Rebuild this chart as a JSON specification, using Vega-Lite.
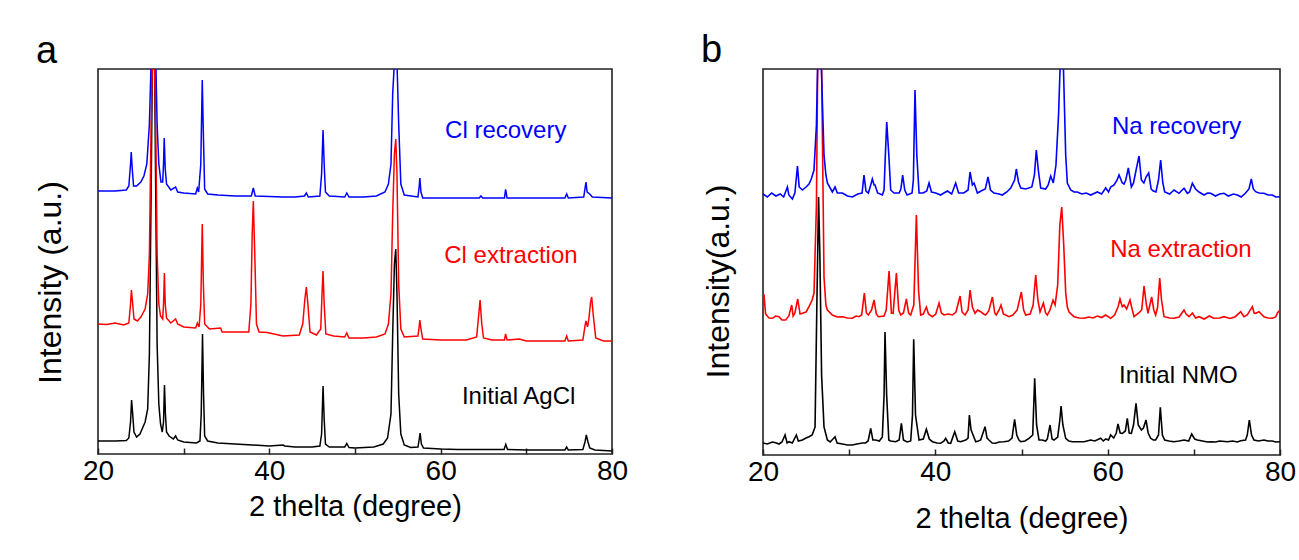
{
  "$schema": "https://vega.github.io/schema/vega-lite/v6.json",
  "background": "white",
  "padding": {"left": 33, "top": 31, "right": 5, "bottom": 5},
  "bounds": "flush",
  "spacing": 151,
  "config": {
    "view": {"stroke": "#222", "strokeWidth": 1.6},
    "font": "Liberation Sans",
    "axis": {"grid": false, "domain": false, "labelFont": "Liberation Sans", "titleFont": "Liberation Sans", "labelColor": "#000", "titleColor": "#000", "titleFontWeight": "normal"}
  },
  "datasets": {
    "a": [
      {"s":"ini","t":20,"i":13},{"s":"ini","t":22,"i":13},{"s":"ini","t":23.3,"i":13.5},{"s":"ini","t":23.6,"i":16},{"s":"ini","t":23.8,"i":32},{"s":"ini","t":23.92,"i":54},{"s":"ini","t":24.05,"i":40},{"s":"ini","t":24.2,"i":22},{"s":"ini","t":24.5,"i":17},{"s":"ini","t":24.9,"i":20},{"s":"ini","t":25.3,"i":28},{"s":"ini","t":25.5,"i":32},{"s":"ini","t":25.8,"i":45},{"s":"ini","t":26.0,"i":100},{"s":"ini","t":26.2,"i":260},{"s":"ini","t":26.35,"i":392},{"s":"ini","t":26.6,"i":392},{"s":"ini","t":26.75,"i":250},{"s":"ini","t":26.9,"i":110},{"s":"ini","t":27.1,"i":50},{"s":"ini","t":27.3,"i":30},{"s":"ini","t":27.5,"i":22},{"s":"ini","t":27.65,"i":32},{"s":"ini","t":27.76,"i":69},{"s":"ini","t":27.87,"i":40},{"s":"ini","t":28.0,"i":22},{"s":"ini","t":28.3,"i":18},{"s":"ini","t":28.8,"i":15},{"s":"ini","t":29.06,"i":18},{"s":"ini","t":29.3,"i":14},{"s":"ini","t":30,"i":12},{"s":"ini","t":31.5,"i":11},{"s":"ini","t":31.9,"i":13},{"s":"ini","t":32.05,"i":40},{"s":"ini","t":32.2,"i":120},{"s":"ini","t":32.32,"i":60},{"s":"ini","t":32.45,"i":18},{"s":"ini","t":32.8,"i":13},{"s":"ini","t":34,"i":11},{"s":"ini","t":36,"i":10},{"s":"ini","t":38,"i":9},{"s":"ini","t":40,"i":8},{"s":"ini","t":41.6,"i":9},{"s":"ini","t":41.8,"i":8},{"s":"ini","t":43,"i":7},{"s":"ini","t":45,"i":7},{"s":"ini","t":45.9,"i":8},{"s":"ini","t":46.1,"i":20},{"s":"ini","t":46.27,"i":68},{"s":"ini","t":46.4,"i":35},{"s":"ini","t":46.55,"i":10},{"s":"ini","t":47,"i":7},{"s":"ini","t":48.8,"i":7},{"s":"ini","t":49.04,"i":10.5},{"s":"ini","t":49.3,"i":6.5},{"s":"ini","t":50,"i":6},{"s":"ini","t":52.2,"i":7},{"s":"ini","t":53.3,"i":10},{"s":"ini","t":53.8,"i":16},{"s":"ini","t":54.2,"i":40},{"s":"ini","t":54.4,"i":120},{"s":"ini","t":54.6,"i":190},{"s":"ini","t":54.76,"i":205},{"s":"ini","t":54.9,"i":160},{"s":"ini","t":55.1,"i":60},{"s":"ini","t":55.35,"i":20},{"s":"ini","t":55.75,"i":9},{"s":"ini","t":56.5,"i":6.5},{"s":"ini","t":57.35,"i":7},{"s":"ini","t":57.5,"i":15},{"s":"ini","t":57.6,"i":21},{"s":"ini","t":57.75,"i":10},{"s":"ini","t":58,"i":6},{"s":"ini","t":60,"i":5},{"s":"ini","t":62,"i":4.5},{"s":"ini","t":64.7,"i":4.5},{"s":"ini","t":67.4,"i":4.5},{"s":"ini","t":67.6,"i":9.7},{"s":"ini","t":67.8,"i":4.5},{"s":"ini","t":70,"i":4},{"s":"ini","t":72,"i":4},{"s":"ini","t":74.5,"i":4},{"s":"ini","t":74.71,"i":7},{"s":"ini","t":74.9,"i":4},{"s":"ini","t":76.6,"i":4.5},{"s":"ini","t":76.85,"i":12},{"s":"ini","t":77.0,"i":19},{"s":"ini","t":77.2,"i":12},{"s":"ini","t":77.4,"i":6},{"s":"ini","t":78,"i":4},{"s":"ini","t":80,"i":3},
      {"s":"ext","t":20,"i":130},{"s":"ext","t":21,"i":129.5},{"s":"ext","t":22,"i":131},{"s":"ext","t":23,"i":129},{"s":"ext","t":23.6,"i":131},{"s":"ext","t":23.8,"i":150},{"s":"ext","t":23.9,"i":164},{"s":"ext","t":24.05,"i":150},{"s":"ext","t":24.2,"i":135},{"s":"ext","t":24.6,"i":133},{"s":"ext","t":25.0,"i":137},{"s":"ext","t":25.5,"i":145},{"s":"ext","t":25.8,"i":160},{"s":"ext","t":26.0,"i":200},{"s":"ext","t":26.2,"i":330},{"s":"ext","t":26.35,"i":392},{"s":"ext","t":26.6,"i":392},{"s":"ext","t":26.75,"i":320},{"s":"ext","t":26.9,"i":200},{"s":"ext","t":27.1,"i":150},{"s":"ext","t":27.3,"i":138},{"s":"ext","t":27.55,"i":135},{"s":"ext","t":27.65,"i":150},{"s":"ext","t":27.75,"i":181},{"s":"ext","t":27.85,"i":150},{"s":"ext","t":28.0,"i":136},{"s":"ext","t":28.5,"i":131},{"s":"ext","t":29.06,"i":135},{"s":"ext","t":29.3,"i":130},{"s":"ext","t":30,"i":127},{"s":"ext","t":31.4,"i":126},{"s":"ext","t":31.6,"i":131},{"s":"ext","t":31.8,"i":127},{"s":"ext","t":32.0,"i":150},{"s":"ext","t":32.17,"i":230},{"s":"ext","t":32.3,"i":170},{"s":"ext","t":32.45,"i":130},{"s":"ext","t":33,"i":125},{"s":"ext","t":34.31,"i":126},{"s":"ext","t":34.5,"i":122},{"s":"ext","t":36,"i":122},{"s":"ext","t":37.6,"i":122},{"s":"ext","t":37.85,"i":150},{"s":"ext","t":38.0,"i":220},{"s":"ext","t":38.13,"i":253},{"s":"ext","t":38.3,"i":200},{"s":"ext","t":38.5,"i":130},{"s":"ext","t":38.8,"i":122},{"s":"ext","t":39.77,"i":121.5},{"s":"ext","t":41.6,"i":118},{"s":"ext","t":43.5,"i":119},{"s":"ext","t":43.9,"i":130},{"s":"ext","t":44.15,"i":155},{"s":"ext","t":44.32,"i":167},{"s":"ext","t":44.5,"i":150},{"s":"ext","t":44.75,"i":122},{"s":"ext","t":45.5,"i":119},{"s":"ext","t":46.0,"i":125},{"s":"ext","t":46.15,"i":160},{"s":"ext","t":46.27,"i":183},{"s":"ext","t":46.4,"i":150},{"s":"ext","t":46.6,"i":120},{"s":"ext","t":47.5,"i":118},{"s":"ext","t":48.8,"i":117},{"s":"ext","t":49.04,"i":121},{"s":"ext","t":49.3,"i":116},{"s":"ext","t":51,"i":116},{"s":"ext","t":52.5,"i":117},{"s":"ext","t":53.5,"i":120},{"s":"ext","t":53.9,"i":130},{"s":"ext","t":54.2,"i":160},{"s":"ext","t":54.4,"i":240},{"s":"ext","t":54.6,"i":300},{"s":"ext","t":54.76,"i":315},{"s":"ext","t":54.9,"i":280},{"s":"ext","t":55.1,"i":170},{"s":"ext","t":55.35,"i":125},{"s":"ext","t":55.75,"i":117},{"s":"ext","t":57.35,"i":118},{"s":"ext","t":57.5,"i":128},{"s":"ext","t":57.57,"i":134},{"s":"ext","t":57.7,"i":125},{"s":"ext","t":57.9,"i":115},{"s":"ext","t":60,"i":114},{"s":"ext","t":63,"i":114},{"s":"ext","t":64.2,"i":117},{"s":"ext","t":64.45,"i":140},{"s":"ext","t":64.6,"i":154},{"s":"ext","t":64.8,"i":130},{"s":"ext","t":65.0,"i":116},{"s":"ext","t":66,"i":114},{"s":"ext","t":67.45,"i":114},{"s":"ext","t":67.58,"i":120},{"s":"ext","t":67.75,"i":114},{"s":"ext","t":69.17,"i":115},{"s":"ext","t":70,"i":113},{"s":"ext","t":74.5,"i":113},{"s":"ext","t":74.71,"i":118},{"s":"ext","t":74.9,"i":113},{"s":"ext","t":76.6,"i":114},{"s":"ext","t":76.85,"i":128},{"s":"ext","t":76.96,"i":133},{"s":"ext","t":77.15,"i":127},{"s":"ext","t":77.3,"i":135},{"s":"ext","t":77.5,"i":152},{"s":"ext","t":77.63,"i":157},{"s":"ext","t":77.8,"i":140},{"s":"ext","t":78.1,"i":116},{"s":"ext","t":79,"i":113},{"s":"ext","t":80,"i":113},
      {"s":"rec","t":20,"i":263},{"s":"rec","t":22,"i":263},{"s":"rec","t":23.3,"i":264},{"s":"rec","t":23.6,"i":268},{"s":"rec","t":23.8,"i":290},{"s":"rec","t":23.88,"i":302},{"s":"rec","t":24.0,"i":285},{"s":"rec","t":24.15,"i":268},{"s":"rec","t":24.5,"i":268},{"s":"rec","t":25.0,"i":272},{"s":"rec","t":25.36,"i":278},{"s":"rec","t":25.7,"i":290},{"s":"rec","t":26.0,"i":330},{"s":"rec","t":26.2,"i":392},{"s":"rec","t":26.75,"i":392},{"s":"rec","t":26.9,"i":330},{"s":"rec","t":27.1,"i":290},{"s":"rec","t":27.35,"i":272},{"s":"rec","t":27.55,"i":272},{"s":"rec","t":27.65,"i":290},{"s":"rec","t":27.73,"i":316},{"s":"rec","t":27.85,"i":285},{"s":"rec","t":28.0,"i":270},{"s":"rec","t":28.5,"i":264},{"s":"rec","t":29.06,"i":267},{"s":"rec","t":29.3,"i":262},{"s":"rec","t":30,"i":261},{"s":"rec","t":31.4,"i":260},{"s":"rec","t":31.59,"i":266},{"s":"rec","t":31.75,"i":262},{"s":"rec","t":32.0,"i":290},{"s":"rec","t":32.17,"i":374},{"s":"rec","t":32.3,"i":320},{"s":"rec","t":32.45,"i":265},{"s":"rec","t":32.8,"i":260},{"s":"rec","t":34,"i":259},{"s":"rec","t":36,"i":258},{"s":"rec","t":37.9,"i":258},{"s":"rec","t":38.13,"i":266},{"s":"rec","t":38.35,"i":258},{"s":"rec","t":40,"i":257.5},{"s":"rec","t":41.6,"i":257},{"s":"rec","t":43,"i":257},{"s":"rec","t":44.1,"i":258},{"s":"rec","t":44.32,"i":261},{"s":"rec","t":44.55,"i":257},{"s":"rec","t":45.9,"i":258},{"s":"rec","t":46.1,"i":280},{"s":"rec","t":46.27,"i":324},{"s":"rec","t":46.4,"i":290},{"s":"rec","t":46.55,"i":262},{"s":"rec","t":47,"i":258},{"s":"rec","t":48.8,"i":257},{"s":"rec","t":49.04,"i":261},{"s":"rec","t":49.3,"i":257},{"s":"rec","t":51,"i":257},{"s":"rec","t":52.5,"i":258},{"s":"rec","t":53.5,"i":262},{"s":"rec","t":53.9,"i":270},{"s":"rec","t":54.2,"i":290},{"s":"rec","t":54.4,"i":360},{"s":"rec","t":54.6,"i":392},{"s":"rec","t":54.9,"i":392},{"s":"rec","t":55.1,"i":330},{"s":"rec","t":55.35,"i":270},{"s":"rec","t":55.75,"i":259},{"s":"rec","t":57.35,"i":257},{"s":"rec","t":57.5,"i":268},{"s":"rec","t":57.57,"i":276},{"s":"rec","t":57.7,"i":262},{"s":"rec","t":57.9,"i":256},{"s":"rec","t":60,"i":256},{"s":"rec","t":64.5,"i":256},{"s":"rec","t":64.7,"i":258},{"s":"rec","t":64.9,"i":256},{"s":"rec","t":67.45,"i":256},{"s":"rec","t":67.58,"i":264.7},{"s":"rec","t":67.75,"i":256},{"s":"rec","t":70,"i":256},{"s":"rec","t":74.5,"i":256},{"s":"rec","t":74.71,"i":260},{"s":"rec","t":74.9,"i":256},{"s":"rec","t":76.7,"i":257},{"s":"rec","t":76.96,"i":272},{"s":"rec","t":77.1,"i":262},{"s":"rec","t":77.4,"i":260},{"s":"rec","t":77.7,"i":257},{"s":"rec","t":80,"i":256}
    ],
    "b": [
      {"s":"ini","t":20,"i":12},{"s":"ini","t":20.5,"i":11},{"s":"ini","t":21.09,"i":13},{"s":"ini","t":21.47,"i":12.3},{"s":"ini","t":21.86,"i":11},{"s":"ini","t":22.2,"i":13},{"s":"ini","t":22.56,"i":20},{"s":"ini","t":22.8,"i":12},{"s":"ini","t":23.02,"i":13.3},{"s":"ini","t":23.4,"i":12},{"s":"ini","t":23.87,"i":20},{"s":"ini","t":24.1,"i":14},{"s":"ini","t":24.57,"i":15},{"s":"ini","t":25.0,"i":17},{"s":"ini","t":25.34,"i":18.3},{"s":"ini","t":25.7,"i":20},{"s":"ini","t":26.04,"i":28},{"s":"ini","t":26.25,"i":150},{"s":"ini","t":26.45,"i":258},{"s":"ini","t":26.6,"i":200},{"s":"ini","t":26.8,"i":80},{"s":"ini","t":27.08,"i":28},{"s":"ini","t":27.47,"i":15},{"s":"ini","t":27.8,"i":13},{"s":"ini","t":28.36,"i":18.3},{"s":"ini","t":28.6,"i":12},{"s":"ini","t":29.21,"i":11},{"s":"ini","t":29.8,"i":10},{"s":"ini","t":30.37,"i":10},{"s":"ini","t":30.9,"i":11},{"s":"ini","t":31.53,"i":12},{"s":"ini","t":31.9,"i":12},{"s":"ini","t":32.2,"i":14},{"s":"ini","t":32.5,"i":26.7},{"s":"ini","t":32.75,"i":15},{"s":"ini","t":33.07,"i":15},{"s":"ini","t":33.5,"i":14},{"s":"ini","t":33.85,"i":18},{"s":"ini","t":34.05,"i":60},{"s":"ini","t":34.16,"i":123},{"s":"ini","t":34.35,"i":60},{"s":"ini","t":34.6,"i":15},{"s":"ini","t":34.8,"i":14},{"s":"ini","t":35.4,"i":13.3},{"s":"ini","t":35.8,"i":15},{"s":"ini","t":36.06,"i":31.7},{"s":"ini","t":36.3,"i":15},{"s":"ini","t":36.72,"i":13},{"s":"ini","t":37.14,"i":14},{"s":"ini","t":37.35,"i":40},{"s":"ini","t":37.49,"i":115.7},{"s":"ini","t":37.7,"i":40},{"s":"ini","t":38.11,"i":15},{"s":"ini","t":38.6,"i":16},{"s":"ini","t":38.96,"i":25.7},{"s":"ini","t":39.3,"i":16},{"s":"ini","t":39.66,"i":13.3},{"s":"ini","t":40.2,"i":12},{"s":"ini","t":40.62,"i":11.7},{"s":"ini","t":41.01,"i":14},{"s":"ini","t":41.2,"i":16.7},{"s":"ini","t":41.5,"i":12},{"s":"ini","t":41.78,"i":11.7},{"s":"ini","t":42.25,"i":23.3},{"s":"ini","t":42.6,"i":14},{"s":"ini","t":42.94,"i":13.3},{"s":"ini","t":43.53,"i":15},{"s":"ini","t":43.8,"i":17},{"s":"ini","t":43.95,"i":40},{"s":"ini","t":44.15,"i":25},{"s":"ini","t":44.3,"i":21.7},{"s":"ini","t":44.69,"i":13.3},{"s":"ini","t":45.0,"i":14},{"s":"ini","t":45.26,"i":15},{"s":"ini","t":45.77,"i":28.3},{"s":"ini","t":46.0,"i":17},{"s":"ini","t":46.22,"i":15},{"s":"ini","t":46.6,"i":12},{"s":"ini","t":46.99,"i":11.7},{"s":"ini","t":47.4,"i":13},{"s":"ini","t":47.96,"i":13.3},{"s":"ini","t":48.5,"i":14},{"s":"ini","t":48.9,"i":17},{"s":"ini","t":49.2,"i":35.7},{"s":"ini","t":49.45,"i":20},{"s":"ini","t":49.7,"i":15},{"s":"ini","t":49.91,"i":13.3},{"s":"ini","t":50.4,"i":14},{"s":"ini","t":50.87,"i":16.7},{"s":"ini","t":51.3,"i":20},{"s":"ini","t":51.53,"i":76.7},{"s":"ini","t":51.75,"i":30},{"s":"ini","t":52.03,"i":15},{"s":"ini","t":52.4,"i":15},{"s":"ini","t":52.8,"i":14},{"s":"ini","t":53.0,"i":16},{"s":"ini","t":53.31,"i":30},{"s":"ini","t":53.55,"i":16},{"s":"ini","t":53.77,"i":15},{"s":"ini","t":54.2,"i":18},{"s":"ini","t":54.45,"i":35},{"s":"ini","t":54.59,"i":49},{"s":"ini","t":54.8,"i":30},{"s":"ini","t":55.13,"i":16.7},{"s":"ini","t":55.5,"i":14},{"s":"ini","t":55.9,"i":13.3},{"s":"ini","t":56.5,"i":13.3},{"s":"ini","t":57.26,"i":13.3},{"s":"ini","t":58.03,"i":15},{"s":"ini","t":58.5,"i":14},{"s":"ini","t":59.19,"i":16.7},{"s":"ini","t":59.5,"i":14},{"s":"ini","t":59.77,"i":16},{"s":"ini","t":60.1,"i":15},{"s":"ini","t":60.35,"i":20},{"s":"ini","t":60.7,"i":17},{"s":"ini","t":61.0,"i":22},{"s":"ini","t":61.2,"i":31},{"s":"ini","t":61.45,"i":22},{"s":"ini","t":61.7,"i":21.7},{"s":"ini","t":62.05,"i":24},{"s":"ini","t":62.28,"i":36.7},{"s":"ini","t":62.5,"i":22},{"s":"ini","t":62.75,"i":21.7},{"s":"ini","t":63.0,"i":30},{"s":"ini","t":63.29,"i":51.7},{"s":"ini","t":63.55,"i":30},{"s":"ini","t":63.91,"i":25},{"s":"ini","t":64.15,"i":27},{"s":"ini","t":64.45,"i":35},{"s":"ini","t":64.7,"i":22},{"s":"ini","t":64.99,"i":16.7},{"s":"ini","t":65.3,"i":15},{"s":"ini","t":65.57,"i":15},{"s":"ini","t":65.9,"i":20},{"s":"ini","t":66.11,"i":47.7},{"s":"ini","t":66.35,"i":20},{"s":"ini","t":66.62,"i":15},{"s":"ini","t":67.1,"i":14},{"s":"ini","t":67.7,"i":13.3},{"s":"ini","t":68.3,"i":14},{"s":"ini","t":68.86,"i":15},{"s":"ini","t":69.4,"i":14},{"s":"ini","t":69.75,"i":21},{"s":"ini","t":70.1,"i":16},{"s":"ini","t":70.41,"i":15},{"s":"ini","t":71.0,"i":14},{"s":"ini","t":71.6,"i":13},{"s":"ini","t":71.96,"i":13.3},{"s":"ini","t":72.5,"i":13},{"s":"ini","t":73.0,"i":14},{"s":"ini","t":73.89,"i":13.3},{"s":"ini","t":74.5,"i":14},{"s":"ini","t":75.05,"i":13},{"s":"ini","t":75.44,"i":14.2},{"s":"ini","t":76.0,"i":15},{"s":"ini","t":76.2,"i":20},{"s":"ini","t":76.44,"i":35},{"s":"ini","t":76.7,"i":20},{"s":"ini","t":76.98,"i":15},{"s":"ini","t":77.5,"i":14},{"s":"ini","t":78.14,"i":15},{"s":"ini","t":78.6,"i":14},{"s":"ini","t":79.11,"i":14},{"s":"ini","t":79.5,"i":13},{"s":"ini","t":80,"i":13.3},
      {"s":"ext","t":20,"i":160},{"s":"ext","t":20.12,"i":160},{"s":"ext","t":20.3,"i":141},{"s":"ext","t":20.7,"i":137},{"s":"ext","t":21.09,"i":136.7},{"s":"ext","t":21.47,"i":139},{"s":"ext","t":21.86,"i":138.3},{"s":"ext","t":22.2,"i":135},{"s":"ext","t":22.63,"i":135},{"s":"ext","t":23.0,"i":139},{"s":"ext","t":23.33,"i":150},{"s":"ext","t":23.5,"i":139},{"s":"ext","t":23.7,"i":142},{"s":"ext","t":24.03,"i":156},{"s":"ext","t":24.3,"i":141},{"s":"ext","t":24.57,"i":141.7},{"s":"ext","t":25.0,"i":143},{"s":"ext","t":25.34,"i":148.3},{"s":"ext","t":25.7,"i":155},{"s":"ext","t":25.92,"i":161.7},{"s":"ext","t":26.2,"i":250},{"s":"ext","t":26.35,"i":393},{"s":"ext","t":26.8,"i":393},{"s":"ext","t":27.08,"i":178},{"s":"ext","t":27.3,"i":150},{"s":"ext","t":27.47,"i":145},{"s":"ext","t":28.05,"i":140},{"s":"ext","t":28.6,"i":138},{"s":"ext","t":29.21,"i":138.3},{"s":"ext","t":29.8,"i":137},{"s":"ext","t":30.37,"i":136.7},{"s":"ext","t":30.8,"i":139},{"s":"ext","t":31.14,"i":138.3},{"s":"ext","t":31.45,"i":140},{"s":"ext","t":31.76,"i":162},{"s":"ext","t":32.0,"i":142},{"s":"ext","t":32.23,"i":140},{"s":"ext","t":32.6,"i":145},{"s":"ext","t":32.89,"i":155},{"s":"ext","t":33.15,"i":141},{"s":"ext","t":33.39,"i":138.3},{"s":"ext","t":34.05,"i":139},{"s":"ext","t":34.3,"i":145},{"s":"ext","t":34.63,"i":184},{"s":"ext","t":34.9,"i":142},{"s":"ext","t":35.1,"i":141.7},{"s":"ext","t":35.48,"i":182},{"s":"ext","t":35.75,"i":145},{"s":"ext","t":35.98,"i":140},{"s":"ext","t":36.3,"i":142},{"s":"ext","t":36.64,"i":156},{"s":"ext","t":36.9,"i":142},{"s":"ext","t":37.14,"i":140},{"s":"ext","t":37.5,"i":150},{"s":"ext","t":37.8,"i":240},{"s":"ext","t":38.05,"i":165},{"s":"ext","t":38.3,"i":140},{"s":"ext","t":38.6,"i":141},{"s":"ext","t":38.96,"i":148},{"s":"ext","t":39.2,"i":141},{"s":"ext","t":39.66,"i":138.3},{"s":"ext","t":40.05,"i":141},{"s":"ext","t":40.43,"i":152},{"s":"ext","t":40.7,"i":142},{"s":"ext","t":41.01,"i":140},{"s":"ext","t":41.5,"i":141},{"s":"ext","t":41.97,"i":140},{"s":"ext","t":42.4,"i":143},{"s":"ext","t":42.87,"i":159},{"s":"ext","t":43.1,"i":143},{"s":"ext","t":43.45,"i":140},{"s":"ext","t":43.8,"i":145},{"s":"ext","t":44.03,"i":165},{"s":"ext","t":44.3,"i":148},{"s":"ext","t":44.61,"i":141.7},{"s":"ext","t":44.9,"i":145},{"s":"ext","t":45.26,"i":143.3},{"s":"ext","t":45.6,"i":141},{"s":"ext","t":45.84,"i":140},{"s":"ext","t":46.2,"i":144},{"s":"ext","t":46.62,"i":158},{"s":"ext","t":46.9,"i":142},{"s":"ext","t":47.07,"i":140},{"s":"ext","t":47.4,"i":145},{"s":"ext","t":47.62,"i":150},{"s":"ext","t":47.9,"i":141},{"s":"ext","t":48.55,"i":138.3},{"s":"ext","t":49.0,"i":140},{"s":"ext","t":49.5,"i":145},{"s":"ext","t":49.98,"i":163},{"s":"ext","t":50.25,"i":145},{"s":"ext","t":50.49,"i":140},{"s":"ext","t":51.0,"i":141},{"s":"ext","t":51.35,"i":150},{"s":"ext","t":51.65,"i":180},{"s":"ext","t":51.9,"i":155},{"s":"ext","t":52.15,"i":143},{"s":"ext","t":52.54,"i":152},{"s":"ext","t":52.8,"i":142},{"s":"ext","t":53.0,"i":140},{"s":"ext","t":53.3,"i":145},{"s":"ext","t":53.66,"i":155},{"s":"ext","t":53.9,"i":150},{"s":"ext","t":54.2,"i":170},{"s":"ext","t":54.45,"i":230},{"s":"ext","t":54.67,"i":248},{"s":"ext","t":54.9,"i":210},{"s":"ext","t":55.13,"i":162},{"s":"ext","t":55.32,"i":148},{"s":"ext","t":55.52,"i":143},{"s":"ext","t":56.09,"i":138.3},{"s":"ext","t":56.7,"i":137},{"s":"ext","t":57.26,"i":136.7},{"s":"ext","t":57.8,"i":138},{"s":"ext","t":58.3,"i":137},{"s":"ext","t":58.8,"i":139},{"s":"ext","t":59.3,"i":137.5},{"s":"ext","t":59.77,"i":140},{"s":"ext","t":60.35,"i":136.7},{"s":"ext","t":60.8,"i":140},{"s":"ext","t":61.2,"i":148},{"s":"ext","t":61.43,"i":156},{"s":"ext","t":61.7,"i":148.3},{"s":"ext","t":61.9,"i":150},{"s":"ext","t":62.2,"i":146},{"s":"ext","t":62.59,"i":155},{"s":"ext","t":62.86,"i":145},{"s":"ext","t":63.06,"i":138.3},{"s":"ext","t":63.6,"i":142},{"s":"ext","t":63.95,"i":145},{"s":"ext","t":64.22,"i":169},{"s":"ext","t":64.5,"i":150},{"s":"ext","t":64.68,"i":141.7},{"s":"ext","t":65.11,"i":158},{"s":"ext","t":65.35,"i":145},{"s":"ext","t":65.57,"i":140},{"s":"ext","t":65.8,"i":148},{"s":"ext","t":66.04,"i":177},{"s":"ext","t":66.25,"i":155},{"s":"ext","t":66.54,"i":138.3},{"s":"ext","t":67.2,"i":137},{"s":"ext","t":67.7,"i":136.7},{"s":"ext","t":68.3,"i":138},{"s":"ext","t":68.86,"i":145},{"s":"ext","t":69.1,"i":141},{"s":"ext","t":69.44,"i":138.3},{"s":"ext","t":69.83,"i":142},{"s":"ext","t":70.2,"i":137},{"s":"ext","t":70.6,"i":138.3},{"s":"ext","t":71.2,"i":136},{"s":"ext","t":71.8,"i":139},{"s":"ext","t":72.3,"i":136.7},{"s":"ext","t":73.0,"i":137},{"s":"ext","t":73.5,"i":138.3},{"s":"ext","t":74.2,"i":136.5},{"s":"ext","t":74.8,"i":138.3},{"s":"ext","t":75.44,"i":143.3},{"s":"ext","t":75.82,"i":138.3},{"s":"ext","t":76.2,"i":140},{"s":"ext","t":76.79,"i":148.3},{"s":"ext","t":77.0,"i":142},{"s":"ext","t":77.17,"i":141.7},{"s":"ext","t":77.56,"i":143.3},{"s":"ext","t":78.14,"i":138.3},{"s":"ext","t":78.6,"i":137},{"s":"ext","t":79.11,"i":136.7},{"s":"ext","t":79.5,"i":138},{"s":"ext","t":79.7,"i":142},{"s":"ext","t":80,"i":145},
      {"s":"rec","t":20,"i":261},{"s":"rec","t":20.5,"i":258},{"s":"rec","t":21.0,"i":262},{"s":"rec","t":21.5,"i":259},{"s":"rec","t":22.0,"i":261},{"s":"rec","t":22.4,"i":258},{"s":"rec","t":22.83,"i":268},{"s":"rec","t":23.0,"i":260},{"s":"rec","t":23.41,"i":256},{"s":"rec","t":23.7,"i":262},{"s":"rec","t":24.0,"i":289},{"s":"rec","t":24.2,"i":268},{"s":"rec","t":24.57,"i":265},{"s":"rec","t":25.0,"i":268},{"s":"rec","t":25.34,"i":271},{"s":"rec","t":25.6,"i":276},{"s":"rec","t":25.92,"i":285},{"s":"rec","t":26.2,"i":330},{"s":"rec","t":26.35,"i":393},{"s":"rec","t":26.75,"i":393},{"s":"rec","t":27.08,"i":300},{"s":"rec","t":27.3,"i":280},{"s":"rec","t":27.47,"i":272},{"s":"rec","t":28.05,"i":263},{"s":"rec","t":28.36,"i":268},{"s":"rec","t":28.63,"i":262},{"s":"rec","t":29.21,"i":262},{"s":"rec","t":29.8,"i":259},{"s":"rec","t":30.37,"i":258},{"s":"rec","t":31.0,"i":261},{"s":"rec","t":31.5,"i":262},{"s":"rec","t":31.72,"i":280},{"s":"rec","t":31.95,"i":264},{"s":"rec","t":32.23,"i":262},{"s":"rec","t":32.5,"i":270},{"s":"rec","t":32.69,"i":276},{"s":"rec","t":32.89,"i":270},{"s":"rec","t":33.0,"i":270},{"s":"rec","t":33.3,"i":262},{"s":"rec","t":33.85,"i":260},{"s":"rec","t":34.05,"i":265},{"s":"rec","t":34.2,"i":300},{"s":"rec","t":34.36,"i":333},{"s":"rec","t":34.6,"i":300},{"s":"rec","t":34.82,"i":265},{"s":"rec","t":35.2,"i":262},{"s":"rec","t":35.8,"i":262},{"s":"rec","t":36.0,"i":266},{"s":"rec","t":36.21,"i":280},{"s":"rec","t":36.45,"i":265},{"s":"rec","t":36.72,"i":260},{"s":"rec","t":37.3,"i":262},{"s":"rec","t":37.45,"i":275},{"s":"rec","t":37.64,"i":365},{"s":"rec","t":37.85,"i":300},{"s":"rec","t":38.11,"i":262},{"s":"rec","t":38.6,"i":262},{"s":"rec","t":39.0,"i":264},{"s":"rec","t":39.27,"i":272},{"s":"rec","t":39.55,"i":263},{"s":"rec","t":40.05,"i":262},{"s":"rec","t":40.6,"i":260},{"s":"rec","t":41.0,"i":262},{"s":"rec","t":41.4,"i":264},{"s":"rec","t":41.9,"i":261},{"s":"rec","t":42.36,"i":272},{"s":"rec","t":42.7,"i":262},{"s":"rec","t":43.3,"i":262},{"s":"rec","t":43.8,"i":265},{"s":"rec","t":44.03,"i":283},{"s":"rec","t":44.3,"i":270},{"s":"rec","t":44.5,"i":272},{"s":"rec","t":44.88,"i":262},{"s":"rec","t":45.3,"i":264},{"s":"rec","t":45.8,"i":266},{"s":"rec","t":46.11,"i":278},{"s":"rec","t":46.4,"i":265},{"s":"rec","t":46.8,"i":262},{"s":"rec","t":47.4,"i":261},{"s":"rec","t":47.77,"i":260},{"s":"rec","t":48.3,"i":263},{"s":"rec","t":48.75,"i":267},{"s":"rec","t":49.2,"i":275},{"s":"rec","t":49.4,"i":286},{"s":"rec","t":49.65,"i":273},{"s":"rec","t":49.91,"i":267},{"s":"rec","t":50.5,"i":266},{"s":"rec","t":51.2,"i":268},{"s":"rec","t":51.5,"i":280},{"s":"rec","t":51.72,"i":305},{"s":"rec","t":51.95,"i":285},{"s":"rec","t":52.23,"i":267},{"s":"rec","t":52.8,"i":266},{"s":"rec","t":53.1,"i":270},{"s":"rec","t":53.39,"i":279},{"s":"rec","t":53.69,"i":272},{"s":"rec","t":54.0,"i":290},{"s":"rec","t":54.3,"i":340},{"s":"rec","t":54.5,"i":393},{"s":"rec","t":54.85,"i":393},{"s":"rec","t":55.13,"i":300},{"s":"rec","t":55.32,"i":272},{"s":"rec","t":55.71,"i":265},{"s":"rec","t":56.09,"i":263},{"s":"rec","t":56.48,"i":263},{"s":"rec","t":57.0,"i":261},{"s":"rec","t":57.5,"i":262},{"s":"rec","t":58.03,"i":260},{"s":"rec","t":58.8,"i":263},{"s":"rec","t":59.3,"i":261},{"s":"rec","t":59.77,"i":267},{"s":"rec","t":60.1,"i":263},{"s":"rec","t":60.35,"i":268},{"s":"rec","t":60.74,"i":270},{"s":"rec","t":61.1,"i":275},{"s":"rec","t":61.32,"i":280},{"s":"rec","t":61.7,"i":272},{"s":"rec","t":61.9,"i":271},{"s":"rec","t":62.1,"i":275},{"s":"rec","t":62.4,"i":287},{"s":"rec","t":62.75,"i":268},{"s":"rec","t":63.0,"i":272},{"s":"rec","t":63.3,"i":285},{"s":"rec","t":63.64,"i":299},{"s":"rec","t":63.91,"i":275},{"s":"rec","t":64.2,"i":272},{"s":"rec","t":64.45,"i":278},{"s":"rec","t":64.76,"i":282},{"s":"rec","t":65.05,"i":266},{"s":"rec","t":65.3,"i":264},{"s":"rec","t":65.6,"i":263},{"s":"rec","t":65.9,"i":275},{"s":"rec","t":66.15,"i":295},{"s":"rec","t":66.4,"i":272},{"s":"rec","t":66.62,"i":263},{"s":"rec","t":67.2,"i":261},{"s":"rec","t":67.7,"i":265},{"s":"rec","t":68.28,"i":261.7},{"s":"rec","t":68.86,"i":266.7},{"s":"rec","t":69.25,"i":261.7},{"s":"rec","t":69.5,"i":263},{"s":"rec","t":69.83,"i":271.7},{"s":"rec","t":70.2,"i":266},{"s":"rec","t":70.6,"i":263},{"s":"rec","t":71.18,"i":260},{"s":"rec","t":71.6,"i":262},{"s":"rec","t":71.96,"i":261.7},{"s":"rec","t":72.5,"i":259},{"s":"rec","t":73.0,"i":261},{"s":"rec","t":73.5,"i":261.7},{"s":"rec","t":74.0,"i":259},{"s":"rec","t":74.6,"i":261},{"s":"rec","t":75.05,"i":260},{"s":"rec","t":75.5,"i":258},{"s":"rec","t":76.0,"i":262},{"s":"rec","t":76.4,"i":266},{"s":"rec","t":76.67,"i":276},{"s":"rec","t":76.9,"i":266},{"s":"rec","t":77.17,"i":263.3},{"s":"rec","t":77.56,"i":262},{"s":"rec","t":78.14,"i":261.7},{"s":"rec","t":78.6,"i":260},{"s":"rec","t":79.11,"i":260},{"s":"rec","t":79.5,"i":258},{"s":"rec","t":80,"i":258.3}
    ],
    "la": [
      {"s":"rec","label":"Cl recovery","t":67.6,"i":315.7},
      {"s":"ext","label":"Cl extraction","t":68.2,"i":191.3},
      {"s":"ini","label":"Initial AgCl","t":69.1,"i":49.7}
    ],
    "lb": [
      {"s":"rec","label":"Na recovery","t":68.0,"i":321},
      {"s":"ext","label":"Na extraction","t":68.5,"i":198.3},
      {"s":"ini","label":"Initial NMO","t":68.2,"i":72.3}
    ]
  },
  "hconcat": [
    {
      "width": 514,
      "height": 385,
      "title": {"text": "a", "anchor": "start", "frame": "group", "dx": -62, "offset": -32, "baseline": "alphabetic", "fontSize": 38, "font": "Liberation Sans", "fontWeight": "normal", "color": "#000"},
      "layer": [
        {
          "data": {"name": "a"},
          "mark": {"type": "line", "clip": true, "strokeWidth": 1.5},
          "encoding": {
            "x": {"field": "t", "type": "quantitative", "scale": {"domain": [20, 80], "nice": false, "zero": false},
              "axis": {"title": "2 thelta (degree)", "values": [20, 30, 40, 50, 60, 70, 80], "labelExpr": "datum.value % 20 === 0 ? datum.label : ''", "tickSize": -6, "tickWidth": 1.5, "tickColor": "#222", "labelFontSize": 28, "labelPadding": 9, "labelFlush": false, "labelBound": false, "titleFontSize": 29, "titlePadding": 7}},
            "y": {"field": "i", "type": "quantitative", "scale": {"domain": [0, 385], "nice": false, "zero": false},
              "axis": {"title": "Intensity (a.u.)", "labels": false, "ticks": false, "titleFontSize": 32, "titlePadding": 31, "titleY": 213}},
            "color": {"field": "s", "type": "nominal", "scale": {"domain": ["rec", "ext", "ini"], "range": ["#0000ff", "#ff0000", "#000000"]}, "legend": null}
          }
        },
        {
          "data": {"name": "la"},
          "mark": {"type": "text", "font": "Liberation Sans", "fontSize": 24, "align": "center", "baseline": "alphabetic"},
          "encoding": {
            "x": {"field": "t", "type": "quantitative"},
            "y": {"field": "i", "type": "quantitative"},
            "text": {"field": "label"},
            "color": {"field": "s", "type": "nominal", "scale": {"domain": ["rec", "ext", "ini"], "range": ["#0000ff", "#ff0000", "#000000"]}, "legend": null}
          }
        }
      ]
    },
    {
      "width": 517,
      "height": 386,
      "title": {"text": "b", "anchor": "start", "frame": "group", "dx": -62, "offset": -31, "baseline": "alphabetic", "fontSize": 38, "font": "Liberation Sans", "fontWeight": "normal", "color": "#000"},
      "layer": [
        {
          "data": {"name": "b"},
          "mark": {"type": "line", "clip": true, "strokeWidth": 1.6},
          "encoding": {
            "x": {"field": "t", "type": "quantitative", "scale": {"domain": [20, 80], "nice": false, "zero": false},
              "axis": {"title": "2 thelta (degree)", "values": [20, 30, 40, 50, 60, 70, 80], "labelExpr": "datum.value % 20 === 0 ? datum.label : ''", "tickSize": -6, "tickWidth": 1.5, "tickColor": "#222", "labelFontSize": 28, "labelPadding": 9, "labelFlush": false, "labelBound": false, "titleFontSize": 29, "titlePadding": 18}},
            "y": {"field": "i", "type": "quantitative", "scale": {"domain": [0, 386], "nice": false, "zero": false},
              "axis": {"title": "Intensity(a.u.)", "labels": false, "ticks": false, "titleFontSize": 32, "titlePadding": 28, "titleY": 212}},
            "color": {"field": "s", "type": "nominal", "scale": {"domain": ["rec", "ext", "ini"], "range": ["#0000ff", "#ff0000", "#000000"]}, "legend": null}
          }
        },
        {
          "data": {"name": "lb"},
          "mark": {"type": "text", "font": "Liberation Sans", "fontSize": 24, "align": "center", "baseline": "alphabetic"},
          "encoding": {
            "x": {"field": "t", "type": "quantitative"},
            "y": {"field": "i", "type": "quantitative"},
            "text": {"field": "label"},
            "color": {"field": "s", "type": "nominal", "scale": {"domain": ["rec", "ext", "ini"], "range": ["#0000ff", "#ff0000", "#000000"]}, "legend": null}
          }
        }
      ]
    }
  ]
}
